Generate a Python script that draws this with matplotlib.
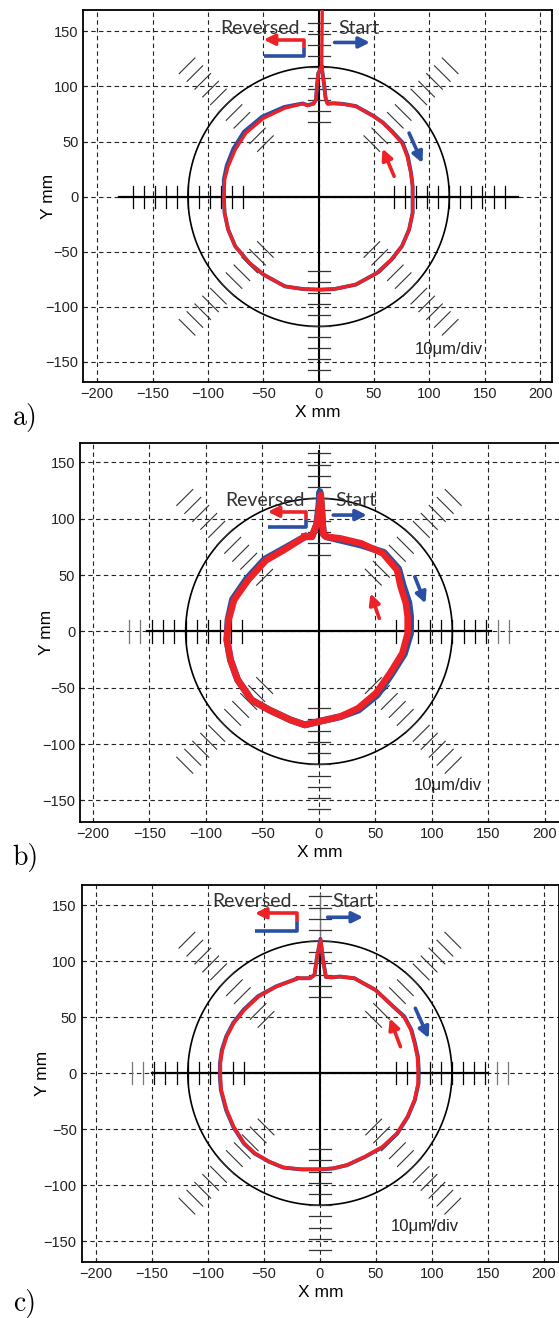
import matplotlib
matplotlib.use("Agg")
import matplotlib.pyplot as plt
import numpy as np

plt.rcParams['font.family'] = ['Liberation Sans', 'DejaVu Sans']

# axis ticks
x_ticks = [-200, -150, -100, -50, 0, 50, 100, 150, 200]
y_ticks = [-150, -100, -50, 0, 50, 100, 150]

# reference circle and scale ladders (mm)
ref_radius = 118
ladder_x = [68, 78, 88, 98, 108, 118, 128, 138, 148, 158, 168]
ladder_y = [68, 78, 88, 98, 108, 118, 128, 138, 148, 158]
ladder_diag = [68, 78, 88, 98, 108, 118, 128, 138, 148, 158, 168]

# ---- a) ----
red_a_x = [3.3, 3.0, 2.8, 4.8, 6.0, 6.6, 8.1, 14, 22, 33.6, 49.6, 58, 65.7, 75.3, 80, 83.3, 84.9, 84.9,
           84.9, 81.7, 75.3, 65.7, 52.8, 33.6, 14.4, 1.6, -14.4, -30.4, -49.6, -62.5, -75.3, -81.7,
           -84.9, -85.5, -84.9, -81.7, -75.3, -65.7, -49.6, -30.4, -14.4, -9.9, -4.5, -2.4, -1.5, -0.3, 2.8]
red_a_y = [169.5, 140, 118, 103, 92, 88, 84.4, 84.6, 84, 82, 72.9, 67, 59.3, 48.6, 36.5, 21.4, 9.3, -2.8,
           -15, -30, -45, -57.4, -69.4, -80, -84, -84.6, -84, -81.6, -71, -60.4, -45.2, -30,
           -15, -2.8, 15.3, 27.5, 42.6, 57.7, 71.3, 80.4, 84.3, 82.6, 84.5, 88, 100, 112, 118]
blue_a_x = [2.8, 4.8, 6.0, 6.6, 8.1, 14, 22, 33.6, 49.6, 58, 66, 75.8, 80.5, 83.5, 84.9, 84.9,
            84.9, 81.7, 75.3, 65.7, 52.8, 33.6, 14.4, 1.6, -14.4, -30.4, -49.6, -62.5, -75.3, -81.7,
            -84.9, -85.5, -85.6, -83, -77, -67.5, -51, -31, -14.4, -9.9, -4.5, -2.4, -1.5, -0.3, 2.8]
blue_a_y = [118, 103, 92, 88, 84.4, 84.8, 84.2, 82.2, 73.2, 67.3, 59.6, 49, 36.7, 21.4, 9.3, -2.8,
            -15, -30, -45, -57.4, -69.4, -80, -84, -84.6, -84, -81.6, -71, -60.4, -45.2, -30,
            -15, -2.8, 15.5, 28, 43.5, 58.8, 72.6, 81.4, 84.6, 83, 84.5, 88, 100, 112, 118]

# ---- b) ----
red_b_x = [-12.5, -6.3, -2.0, 0.5, 1.6, 2.4, 3.2, 4.0, 6.3, 18.9, 37.6, 56.5, 69.1, 72.3, 77, 78.5, 78.5,
           73.8, 62.8, 50.3, 34.6, 18.9, 0, -12.5, -25, -43.9, -59.6, -72, -78.3, -81.5, -80, -75.2,
           -62.7, -47, -31.3, -12.5]
red_b_y = [84, 84, 95, 110, 121, 110, 95, 86, 84, 82.5, 78, 69.2, 54.4, 39.6, 24.8, 13, -1.8,
           -19.5, -37.3, -55, -68.3, -75.7, -80, -83, -78.7, -69.8, -61, -43, -25.4, -7.7, 10, 27.8,
           45.6, 63, 72, 84]
blue_b_x = [-12.5, -6.3, -2.0, 0.0, 0.8, 2.0, 3.2, 4.0, 6.3, 18.9, 37.6, 57.5, 70.5, 74.5, 79.5, 81, 81,
            75.5, 64, 51.5, 35, 18.9, 0, -12.5, -25, -43.9, -59.6, -72, -78.3, -81.5, -80.5, -76.5,
            -64, -48, -31.8, -12.5]
blue_b_y = [84, 84, 95, 112, 124, 112, 95, 86, 84, 81, 76.5, 70, 55.4, 40.6, 25.4, 13.3, -1.8,
            -20, -38.3, -56.5, -69.8, -75.7, -80, -83, -78.7, -69.8, -61, -43, -25.4, -7.7, 10, 28.3,
            46.5, 64, 73, 84]

# ---- c) ----
red_c_x = [-19.9, -8.9, -4.8, -2.5, 0.7, 2.9, 5.4, 10.2, 18, 30.8, 49.8, 65.6, 75.1, 81.4, 84.6, 87.1,
           87.8, 87.8, 84.6, 78.3, 68.8, 56.1, 40.3, 24.4, 11.7, -0.9, -16.8, -32.6, -45.3, -58, -67.5,
           -77, -83.3, -88.1, -89, -89, -87.1, -83.3, -77, -67.5, -54.8, -39, -23.1, -19.9]
red_c_y = [84.8, 84.8, 87.8, 104, 119, 101, 86, 85.6, 86.3, 84.8, 74.3, 59.5, 50.5, 38.6, 26.7, 14.8,
           2.9, -9.1, -24, -38.8, -53.8, -65.7, -74.6, -82, -85, -85.9, -85.9, -84.2, -79, -71.6, -62.7,
           -47.8, -32.9, -15, -3.1, 8.8, 20.7, 32.6, 44.6, 56.5, 68.4, 77.3, 83.3, 84.8]
blue_c_x = [-19.9, -8.9, -4.8, -2.5, 0.5, 2.9, 5.4, 10.2, 18, 30.8, 49.8, 65.6, 75.4, 81.8, 85, 87.6,
            88.4, 88.2, 84.9, 78.6, 69.2, 56.4, 40.3, 24.4, 11.7, -0.9, -16.8, -32.6, -45.3, -58.3, -67.8,
            -77.4, -83.8, -88.5, -89.4, -89.3, -87.6, -83.7, -77.4, -68, -55.2, -39, -23.1, -19.9]
blue_c_y = [84.8, 84.8, 87.8, 104, 120, 101, 86, 85.6, 86.3, 84.8, 74.3, 59.5, 50.8, 38.8, 26.9, 14.9,
            2.9, -9.1, -24.1, -39, -54, -66, -74.8, -82.2, -85.2, -86, -86, -84.4, -79.2, -71.8, -63,
            -48, -33, -15, -3.1, 8.8, 20.8, 32.8, 45, 56.9, 68.8, 77.6, 83.5, 84.8]

RED = '#ec2227'
BLUE = '#2b4fa3'

fig = plt.figure(figsize=(5.59, 13.18), dpi=100)


def px_axes(l, r, t, b):
    return fig.add_axes([l / 559, 1 - b / 1318, (r - l) / 559, (b - t) / 1318])


def draw_panel(ax, xlim, ylim, rx, ry, bx, by, lw_blue, lw_red, hline, vline, vgray,
               rev, start, blue_arr, red_arr, div_pos, ylab_x):
    ax.set_xlim(*xlim)
    ax.set_ylim(*ylim)
    ax.set_xticks(x_ticks)
    ax.set_yticks(y_ticks)
    ax.grid(True, color='#222222', linestyle=(0, (4, 3)), lw=0.8)
    ax.set_axisbelow(True)
    ax.tick_params(direction='in', length=3, labelsize=10.5, colors='#222222')
    for s in ax.spines.values():
        s.set_linewidth(1.3)
    ax.set_xlabel('X mm', fontsize=12.5, labelpad=3)
    ax.set_ylabel('Y mm', fontsize=12.5)
    ax.yaxis.set_label_coords(ylab_x, 0.5)

    # reference circle
    t = np.linspace(0, 2 * np.pi, 361)
    ax.plot(ref_radius * np.cos(t), ref_radius * np.sin(t), color='black', lw=1.2, zorder=2)

    # centre cross
    ax.plot([-hline, hline], [0, 0], color='black', lw=1.6, zorder=2)
    ax.plot([0, 0], [vline[0], vline[1]], color='black', lw=1.5, zorder=2)
    if vgray:
        ax.plot([0, 0], [vline[1], vgray], color='#777777', lw=1.0, zorder=2)

    # ladders on the axes
    for r in ladder_x:
        c = 'black' if r <= hline else '#777777'
        for sgn in (-1, 1):
            ax.plot([sgn * r, sgn * r], [-10, 10], color=c, lw=0.9, zorder=2)
    for r in ladder_y:
        for sgn in (-1, 1):
            ax.plot([-10, 10], [sgn * r, sgn * r], color='#333333', lw=0.9, zorder=2)
    # diagonal ladders
    for ang in (45, 135, 225, 315):
        a = np.deg2rad(ang)
        ux, uy = np.cos(a), np.sin(a)
        px, py = -uy, ux
        for r in ladder_diag:
            cx, cy = r * ux, r * uy
            ax.plot([cx - 10 * px, cx + 10 * px], [cy - 10 * py, cy + 10 * py],
                    color='#333333', lw=0.8, zorder=2)

    # traces
    ax.plot(bx, by, color=BLUE, lw=lw_blue, zorder=4, solid_joinstyle='round')
    ax.plot(rx, ry, color=RED, lw=lw_red, zorder=5, solid_joinstyle='round')

    # labels
    ax.text(rev[0], rev[1], 'Reversed', fontsize=14, family='Lato', color='#333333',
            ha='center', va='center', zorder=6)
    ax.text(start[0], start[1], 'Start', fontsize=14, family='Lato', color='#333333',
            ha='center', va='center', zorder=6)

    # reversed corner arrow
    xl, xr, yb, yt = rev[2], rev[3], rev[4], rev[5]
    ym = (yb + yt) / 2
    ax.plot([xl, xr, xr], [yb, yb, ym], color=BLUE, lw=2.6, zorder=6, solid_capstyle='butt')
    ax.plot([xr, xr, xl + 4], [ym, yt, yt], color=RED, lw=2.6, zorder=6, solid_capstyle='butt')
    ax.annotate('', xy=(xl, yt), xytext=(xl + 8, yt),
                arrowprops=dict(arrowstyle='-|>', color=RED, lw=2.6, mutation_scale=16,
                                shrinkA=0, shrinkB=0), zorder=6)
    # start arrow
    arr = dict(arrowstyle='-|>', lw=2.6, mutation_scale=16, shrinkA=0, shrinkB=0)
    ax.annotate('', xy=(start[3], start[2]), xytext=(start[4], start[2]),
                arrowprops=dict(arr, color=BLUE), zorder=6)
    ax.annotate('', xy=blue_arr[2:], xytext=blue_arr[:2],
                arrowprops=dict(arr, color=BLUE), zorder=6)
    ax.annotate('', xy=red_arr[2:], xytext=red_arr[:2],
                arrowprops=dict(arr, color=RED), zorder=6)
    ax.text(div_pos[0], div_pos[1], '10\u03bcm/div', fontsize=12, color='#222222',
            ha='center', va='center', zorder=6)


ax_a = px_axes(83.3, 551.7, 10, 382)
draw_panel(ax_a, (-212.5, 210.5), (-168.5, 169.5), red_a_x, red_a_y, blue_a_x, blue_a_y, 2.8, 2.4,
           180, (-170, 170), None,
           (-52.8, 153, -49.6, -12.8, 127.4, 142.5), (36.8, 153, 140, 46.4, 14.4),
           (81.7, 57.7, 93.8, 30.4), (68.2, 18.4, 57.7, 43.5), (117.5, -139), -0.058)

ax_b = px_axes(80, 560, 443.3, 822)
draw_panel(ax_b, (-211.5, 213.3), (-169.2, 166.9), red_b_x, red_b_y, blue_b_x, blue_b_y, 5.0, 4.8,
           152, (-117, 160), None,
           (-47.6, 115.7, -45.4, -11.9, 92.3, 106.2), (33, 115.7, 103.2, 42.4, 12.6),
           (84.8, 48.5, 94.2, 24.8), (53.4, 11.5, 45.6, 33.7), (113.8, -136.4), -0.055)

ax_c = px_axes(81.5, 559, 884.7, 1262.3)
draw_panel(ax_c, (-213, 213.7), (-169, 168.4), red_c_x, red_c_y, blue_c_x, blue_c_y, 2.8, 2.5,
           150, (-118, 120), 160,
           (-60.3, 153.3, -58, -20.6, 127.4, 142.9), (29.2, 153.3, 139.3, 38.7, 7),
           (85.3, 58, 97.3, 31.2), (72, 23.7, 62.5, 49), (94.1, -136.6), -0.066)

for lab, y in (('a)', 417), ('b)', 858), ('c)', 1303)):
    fig.text(25 / 559, 1 - y / 1318, lab, fontsize=20, family='cmr10', ha='center', va='center')

fig.savefig('out.png', dpi=100)
